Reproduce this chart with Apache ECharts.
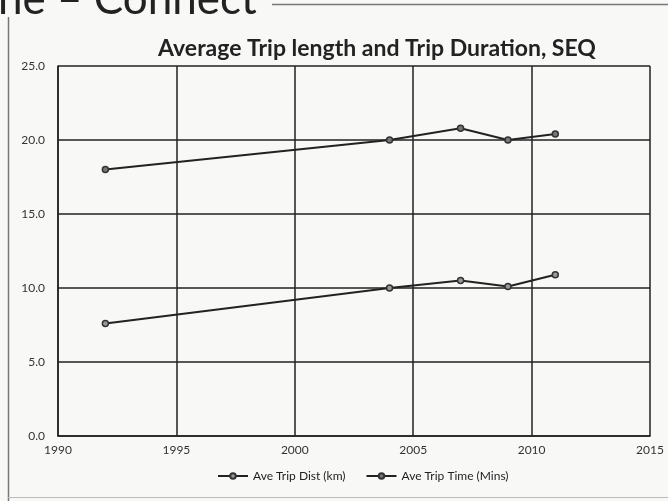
<!DOCTYPE html>
<html><head><meta charset="utf-8">
<script src="https://cdn.jsdelivr.net/npm/echarts@6/dist/echarts.min.js"></script>
<style>html,body{margin:0;padding:0;background:#f8f8f7;}#c{width:668px;height:501px;}</style>
</head><body><div id="c"></div>
<script>
var years = [1992, 2004, 2007, 2009, 2011];
var tripDist = [7.6, 10.0, 10.5, 10.1, 10.9];
var tripTime = [18.0, 20.0, 20.8, 20.0, 20.4];
var seriesNames = ['Ave Trip Dist (km)', 'Ave Trip Time (Mins)'];
var titleText = 'Average Trip length and Trip Duration, SEQ';
var headerText = 'ne \u2013 Connect';

function pairs(xs, ys){ return xs.map(function(x,i){ return [x, ys[i]]; }); }

var chart = echarts.init(document.getElementById('c'), null, {renderer:'canvas'});
var font = 'Lato, "Open Sans", sans-serif';
chart.setOption({
  backgroundColor: '#f8f8f7',
  animation: false,
  title: {
    text: titleText, left: 372, top: 32, textAlign: 'center',
    textStyle: {fontFamily: font, fontSize: 23, fontWeight: 'bold', color: '#222'}
  },
  graphic: [
    {type:'text', left: -2, top: -22, style:{text: headerText, font: '44px ' + font, fill:'#222'}},
    {type:'line', shape:{x1:8.5,y1:17,x2:8.5,y2:501}, style:{stroke:'#777', lineWidth:1.5}},
    {type:'line', shape:{x1:272,y1:4.5,x2:668,y2:4.5}, style:{stroke:'#777', lineWidth:1.5}},
    {type:'line', shape:{x1:8,y1:497.5,x2:668,y2:497.5}, style:{stroke:'#bbb', lineWidth:1}}
  ],
  legend: {
    bottom: 14, left: 212, itemWidth: 30, itemHeight: 7, itemGap: 20,
    textStyle: {fontFamily: font, fontSize: 12, color: '#222'},
    data: seriesNames
  },
  grid: {left: 58, right: 18, top: 66, bottom: 65, containLabel: false},
  xAxis: {
    type: 'value', min: 1990, max: 2015, interval: 5,
    axisLine: {show: true, lineStyle: {color: '#222', width: 1.5}},
    axisTick: {show: false},
    axisLabel: {color: '#333', fontFamily: font, fontSize: 12, margin: 8,
      formatter: function(v){ return String(v); }},
    splitLine: {show: true, lineStyle: {color: '#222', width: 1.5}}
  },
  yAxis: {
    type: 'value', min: 0, max: 25, interval: 5,
    axisLine: {show: true, lineStyle: {color: '#222', width: 1.5}},
    axisTick: {show: false},
    axisLabel: {color: '#333', fontFamily: font, fontSize: 12, margin: 13,
      formatter: function(v){ return v.toFixed(1); }},
    splitLine: {show: true, lineStyle: {color: '#222', width: 1.5}}
  },
  series: [
    {name: seriesNames[0], type: 'line', data: pairs(years, tripDist),
     symbol: 'circle', symbolSize: 6, lineStyle: {color: '#222', width: 2},
     itemStyle: {color: '#999', borderColor: '#333', borderWidth: 1.5}},
    {name: seriesNames[1], type: 'line', data: pairs(years, tripTime),
     symbol: 'circle', symbolSize: 6, lineStyle: {color: '#222', width: 2},
     itemStyle: {color: '#777', borderColor: '#333', borderWidth: 1.5}}
  ]
});
</script></body></html>
